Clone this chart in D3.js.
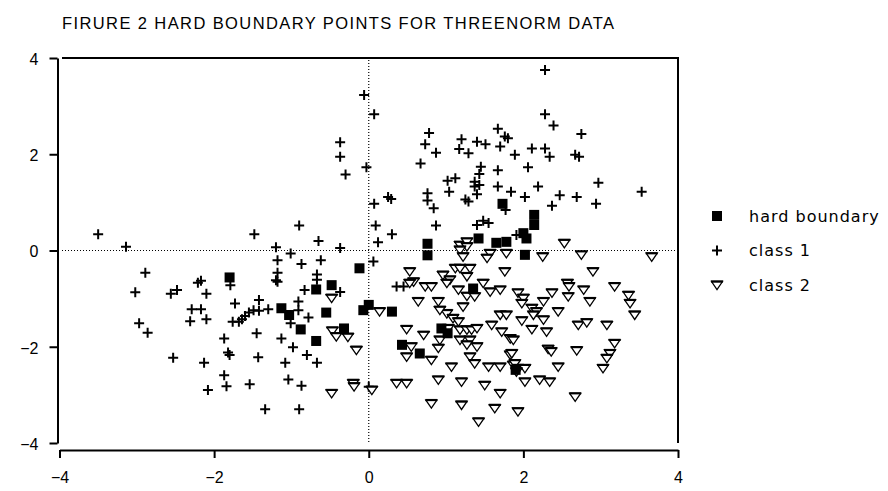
<!DOCTYPE html>
<html>
<head>
<meta charset="utf-8">
<script src="https://cdn.jsdelivr.net/npm/d3@7"></script>
<style>
  body { margin: 0; background: #fff; }
  svg { display: block; }
</style>
</head>
<body>
<div id="chart"></div>
<script>
// data, [x, y]
var class1 = [
  [-3.50, 0.34], [-3.14, 0.08], [-2.89, -0.46], [-3.02, -0.87], [-2.97, -1.51], [-2.86, -1.71],
  [-2.56, -0.90], [-2.48, -0.82], [-2.21, -0.67], [-2.17, -0.63], [-2.10, -0.90], [-2.29, -1.22],
  [-2.17, -1.22], [-2.31, -1.47], [-2.10, -1.43], [-2.53, -2.23], [-2.13, -2.33], [-2.08, -2.90],
  [-0.06, 3.23], [-0.37, 2.25], [-0.37, 1.95], [-0.30, 1.58], [-0.03, 1.73], [-0.90, 0.52],
  [-1.48, 0.34], [-0.65, 0.20], [-1.20, 0.07], [-0.37, 0.05], [-1.01, -0.06], [-1.18, -0.20],
  [-0.87, -0.28], [-0.62, -0.20], [-1.18, -0.46], [-0.67, -0.50], [-1.79, -0.72], [-1.18, -0.65],
  [-1.20, -0.62], [-0.67, -0.61], [-0.37, -0.86], [-0.83, -0.82], [-0.91, -1.06], [-1.42, -1.03],
  [-1.73, -1.10], [-0.91, -1.24], [-1.30, -1.22], [-1.49, -1.24], [-1.55, -1.29], [-1.60, -1.36],
  [-1.64, -1.43], [-1.42, -1.25], [-1.76, -1.48], [-1.68, -1.48], [-0.78, -1.39], [-1.01, -1.51],
  [-1.45, -1.72], [-1.87, -1.83], [-1.13, -1.83], [-0.98, -2.01], [-1.82, -2.12], [-1.80, -2.17],
  [-1.43, -2.22], [-0.80, -2.17], [-0.67, -2.33], [-1.08, -2.33], [-1.87, -2.59], [-1.84, -2.82],
  [-1.54, -2.78], [-1.04, -2.68], [-0.87, -2.81], [-1.34, -3.30], [-0.90, -3.30],
  [0.07, 2.83], [0.07, 0.97], [0.25, 1.11], [0.29, 1.07], [0.09, 0.52], [0.30, 0.34], [0.12, 0.17],
  [0.78, 2.44], [0.73, 2.21], [0.87, 2.03], [0.67, 1.81], [1.20, 2.31], [1.17, 2.11], [1.29, 2.02],
  [1.40, 2.26], [1.51, 2.21], [1.67, 2.53], [1.76, 2.37], [1.80, 2.33], [1.70, 2.16], [1.89, 1.99],
  [1.02, 1.45], [1.12, 1.50], [1.04, 1.22], [0.76, 1.19], [0.76, 1.04], [0.84, 0.88], [0.87, 0.52],
  [1.45, 1.74], [1.43, 1.59], [1.37, 1.43], [1.43, 1.36], [1.37, 1.33], [1.40, 1.17], [1.67, 1.67],
  [1.67, 1.33], [1.84, 1.22], [1.25, 1.06], [1.29, 1.02], [1.77, 0.84], [1.40, 0.53], [1.48, 0.62],
  [1.55, 0.57], [1.91, 0.32], [2.28, 3.75], [2.28, 2.83], [2.39, 2.60], [2.75, 2.42], [2.11, 2.12],
  [2.28, 2.12], [2.34, 1.95], [2.67, 1.99], [2.72, 1.95], [2.06, 1.73], [2.97, 1.41], [3.53, 1.22],
  [2.19, 1.33], [2.02, 1.11], [2.47, 1.15], [2.69, 1.11], [2.37, 0.93], [2.94, 0.97],
  [0.06, -0.23], [0.36, -0.75], [0.45, -0.75], [0.00, -2.83]
];

var class2 = [
  [-0.48, -0.99], [-0.47, -1.67], [-0.42, -1.79], [-0.27, -1.80], [-0.16, -2.07], [-0.20, -2.76],
  [-0.19, -2.83], [-0.48, -2.97], [1.18, 0.11], [1.27, 0.18], [1.27, 0.08], [1.18, 0.01],
  [1.22, -0.13], [1.57, -0.06], [1.78, -0.06], [1.53, -0.16], [1.76, -0.44], [0.53, -0.44],
  [0.58, -0.65], [0.53, -0.68], [0.73, -0.75], [0.81, -0.75], [0.96, -0.51], [1.05, -0.61],
  [1.01, -0.68], [1.12, -0.37], [1.18, -0.37], [1.31, -0.37], [1.27, -0.54], [1.48, -0.68],
  [1.16, -0.82], [1.27, -0.95], [1.37, -0.96], [1.57, -0.86], [1.70, -0.82], [0.64, -1.06],
  [0.90, -1.06], [1.01, -1.31], [0.92, -1.24], [1.22, -1.17], [1.09, -1.41], [1.16, -1.48],
  [1.70, -1.34], [1.78, -1.34], [1.59, -1.55], [1.03, -1.62], [1.18, -1.65], [1.27, -1.65],
  [1.33, -1.65], [1.40, -1.62], [0.49, -1.64], [0.71, -1.76], [1.72, -1.69], [1.83, -1.83],
  [1.18, -1.86], [1.31, -1.86], [0.92, -1.86], [1.27, -1.96], [1.40, -2.00], [0.55, -2.00],
  [0.49, -2.21], [0.81, -2.28], [0.90, -2.03], [1.31, -2.21], [1.37, -2.35], [1.07, -2.42],
  [1.55, -2.42], [1.70, -2.42], [1.83, -2.17], [1.87, -2.38], [0.04, -2.90], [0.36, -2.76],
  [0.49, -2.76], [0.90, -2.69], [1.20, -2.73], [1.50, -2.80], [1.70, -2.97], [0.81, -3.18],
  [1.20, -3.21], [1.63, -3.28], [1.42, -3.56], [0.14, -1.27],
  [2.53, 0.15], [2.25, -0.13], [2.75, -0.09], [3.66, -0.13], [2.90, -0.44], [3.18, -0.75],
  [3.36, -0.93], [3.38, -1.10], [3.44, -1.34], [2.57, -0.68], [2.59, -0.75], [2.58, -0.96],
  [2.78, -0.82], [2.86, -1.06], [2.37, -0.88], [2.26, -1.06], [1.93, -0.88], [2.00, -0.99],
  [1.98, -1.10], [2.11, -1.20], [2.17, -1.27], [2.13, -1.34], [2.45, -1.27], [2.26, -1.44],
  [1.98, -1.46], [2.11, -1.64], [2.30, -1.69], [2.71, -1.55], [2.82, -1.50], [3.08, -1.55],
  [3.18, -1.93], [3.12, -2.14], [3.08, -2.24], [3.03, -2.45], [2.32, -2.05], [2.36, -2.10],
  [2.69, -2.08], [2.45, -2.42], [1.87, -1.86], [1.85, -2.14], [1.89, -2.35], [1.93, -2.45],
  [2.02, -2.45], [1.91, -2.52], [2.02, -2.73], [2.21, -2.69], [2.34, -2.73], [2.67, -3.04],
  [1.93, -3.35]
];

var hardBoundary = [
  [-1.80, -0.56], [-0.12, -0.37], [-0.48, -0.72], [-0.68, -0.81], [-1.13, -1.20], [-1.03, -1.34],
  [-0.55, -1.29], [-0.32, -1.62], [-0.88, -1.64], [-0.68, -1.88], [-0.07, -1.24], [0.00, -1.13],
  [0.30, -1.27], [0.76, 0.14], [0.76, -0.10], [1.42, 0.25], [1.65, 0.16], [1.78, 0.18],
  [1.73, 0.97], [2.14, 0.74], [2.14, 0.53], [2.00, 0.36], [2.04, 0.25], [2.02, -0.09],
  [1.35, -0.79], [0.94, -1.62], [1.02, -1.72], [0.43, -1.96], [0.66, -2.14], [1.90, -2.48]
];

var tickValues = [-4, -2, 0, 2, 4];
var legendLabels = ["hard boundary", "class 1", "class 2"];
var title = "FIRURE 2 HARD BOUNDARY POINTS FOR THREENORM DATA";

var width = 888,
    height = 491;

var svg = d3.select("#chart")
    .append("svg")
    .attr("width", width)
    .attr("height", height);

var x = d3.scaleLinear().domain([-4, 4]).range([59.5, 678]);
var y = d3.scaleLinear().domain([-4, 4]).range([443, 58]);

var fontFam = "'Liberation Sans', Arial, sans-serif";

// title
svg.append("text")
    .attr("x", 62)
    .attr("y", 29)
    .attr("textLength", 552)
    .attr("lengthAdjust", "spacing")
    .style("font-family", fontFam)
    .style("font-size", "16.5px")
    .text(title);

// frame top + right
svg.append("path")
    .attr("d", "M62,58H" + x(4) + "V" + y(-4))
    .style("fill", "none")
    .style("stroke", "#000")
    .style("stroke-width", "2px");

// zero lines
svg.append("line")
    .attr("x1", x(0)).attr("x2", x(0))
    .attr("y1", 60).attr("y2", y(-4))
    .style("stroke", "#000")
    .style("stroke-width", "1.2px")
    .style("stroke-dasharray", "1,2");

svg.append("line")
    .attr("x1", 62).attr("x2", x(4) - 1)
    .attr("y1", y(0)).attr("y2", y(0))
    .style("stroke", "#000")
    .style("stroke-width", "1.2px")
    .style("stroke-dasharray", "1,2");

// axes
var yAxis = d3.axisLeft(y)
    .tickValues(tickValues)
    .tickSizeInner(8)
    .tickSizeOuter(0)
    .tickFormat(d3.format("d"));

var gy = svg.append("g")
    .attr("transform", "translate(57.5,0)")
    .call(yAxis);

var xAxis = d3.axisBottom(x)
    .tickValues(tickValues)
    .tickSizeInner(8)
    .tickSizeOuter(0)
    .tickFormat(d3.format("d"));

var gx = svg.append("g")
    .attr("transform", "translate(0,450)")
    .call(xAxis);

[gx, gy].forEach(function (g) {
    g.select(".domain").style("stroke", "#000").style("stroke-width", "2px");
    g.selectAll(".tick line").style("stroke", "#000").style("stroke-width", "2px");
    g.selectAll(".tick text")
        .style("font-family", fontFam)
        .style("font-size", "16px")
        .style("fill", "#000");
});
gx.selectAll(".tick text").attr("y", 22);
gy.selectAll(".tick text").attr("x", -19).attr("dy", "0.4em");

// markers
function plus(g) {
    g.append("path")
        .attr("d", "M-5,0H5M0,-5V5")
        .style("stroke", "#000")
        .style("stroke-width", "2px")
        .style("fill", "none");
}

function tri(g) {
    g.append("path")
        .attr("d", "M-5.5,-3.5L5.5,-3.5L0,4.5Z")
        .style("stroke", "#000")
        .style("stroke-width", "1.3px")
        .style("fill", "#fff");
    g.append("path")
        .attr("d", "M-6,-3.5H6")
        .style("stroke", "#000")
        .style("stroke-width", "2.2px");
}

function square(g) {
    g.append("rect")
        .attr("x", -5).attr("y", -5)
        .attr("width", 10).attr("height", 10)
        .style("fill", "#000");
}

svg.append("g").selectAll("g")
    .data(class1)
    .join("g")
    .attr("transform", d => "translate(" + x(d[0]) + "," + y(d[1]) + ")")
    .each(function () { plus(d3.select(this)); });

svg.append("g").selectAll("g")
    .data(class2)
    .join("g")
    .attr("transform", d => "translate(" + x(d[0]) + "," + y(d[1]) + ")")
    .each(function () { tri(d3.select(this)); });

svg.append("g").selectAll("g")
    .data(hardBoundary)
    .join("g")
    .attr("transform", d => "translate(" + x(d[0]) + "," + y(d[1]) + ")")
    .each(function () { square(d3.select(this)); });

// legend
var markers = [square, plus, tri];
var legend = svg.append("g");
legendLabels.forEach(function (lab, i) {
    var ly = 216 + i * 34.5;
    var m = legend.append("g").attr("transform", "translate(717," + ly + ")");
    markers[i](m);
    legend.append("text")
        .attr("x", 749)
        .attr("y", ly)
        .attr("dy", "0.35em")
        .style("font-family", "'DejaVu Sans', sans-serif")
        .style("font-size", "16px")
        .style("letter-spacing", "1px")
        .text(lab);
});
</script>
</body>
</html>
